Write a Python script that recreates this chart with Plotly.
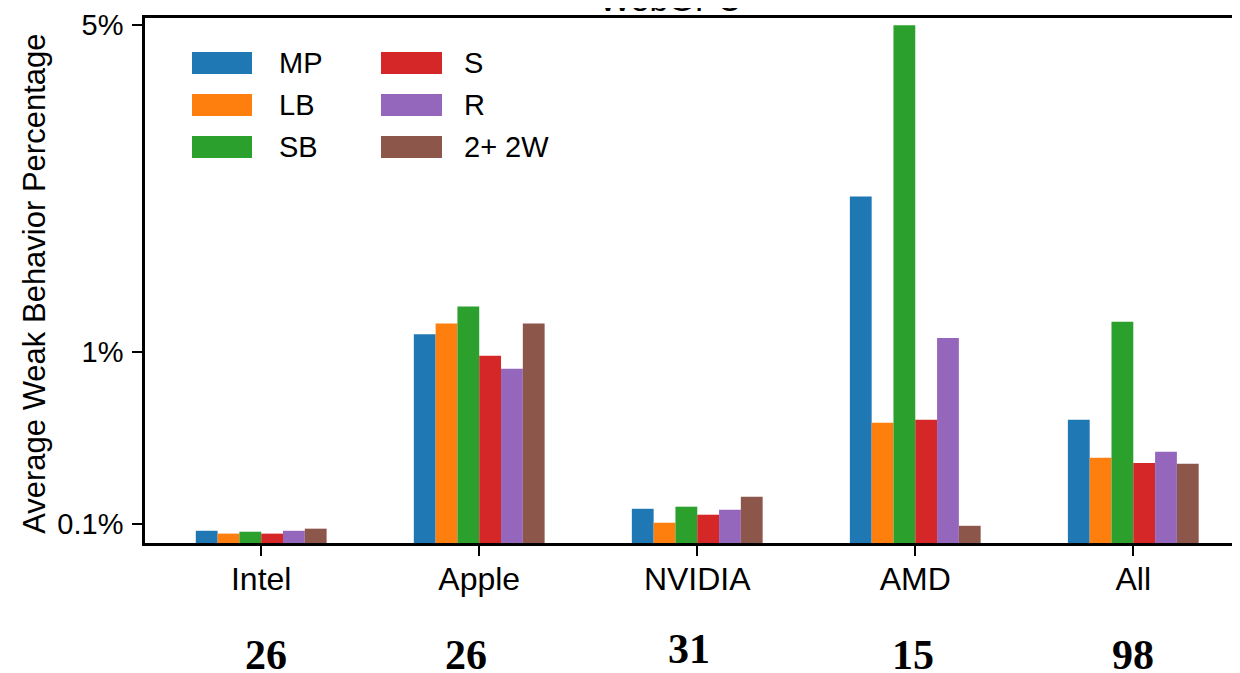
import math
import plotly.graph_objects as go

# ---------------- data ----------------
categories = ["Intel", "Apple", "NVIDIA", "AMD", "All"]
series_names = ["MP", "LB", "SB", "S", "R", "2+ 2W"]
# average weak behavior percentage (in %)
mp_vals = [0.064, 1.09, 0.179, 2.15, 0.645]
lb_vals = [0.049, 1.15, 0.106, 0.629, 0.446]
sb_vals = [0.059, 1.25, 0.190, 5.0, 1.16]
s_vals = [0.049, 0.979, 0.148, 0.645, 0.419]
r_vals = [0.064, 0.911, 0.174, 1.07, 0.477]
w2_vals = [0.075, 1.15, 0.242, 0.090, 0.415]
device_counts = ["26", "26", "31", "15", "98"]
count_x_offsets = [0.02, -0.06, -0.04, -0.01, 0.0]
count_y_offsets = [0.0, 0.0, 0.01, 0.0, 0.0]
y_tick_values = [0.1, 1, 5]
y_tick_labels = ["0.1%", "1%", "5%"]

colors = ["#1f77b4", "#ff7f0e", "#2ca02c", "#d62728", "#9467bd", "#8c564b"]
series_values = [mp_vals, lb_vals, sb_vals, s_vals, r_vals, w2_vals]

# symmetric-log style scale: linear below 1 %, logarithmic above
LIN_SCALE = 0.409


def scale(v):
    if v <= 1:
        return LIN_SCALE * v
    return LIN_SCALE + math.log10(v)


# page offset of the figure (browser body margin)
OFF = 8
W, H = 1240 - OFF, 673 - OFF
ML, MR, MT = 145 - OFF, 0, 18 - OFF
PLOT_BOTTOM = 543.3 - OFF
MB = H - PLOT_BOTTOM
PW = W - ML - MR
PH = H - MT - MB
X_LEFT, X_STEP, X0_PX = -0.533, 218.0, 261.3
X_RIGHT = (W + OFF - X0_PX) / X_STEP


def px_x(px):
    # px given in screen pixels
    return (px - OFF - ML) / PW


def px_y(py):
    return (PLOT_BOTTOM - (py - OFF)) / PH


fig = go.Figure()
x_idx = list(range(len(categories)))
for name, vals, col in zip(series_names, series_values, colors):
    fig.add_trace(go.Bar(
        x=x_idx, y=[scale(v) for v in vals], name=name,
        marker=dict(color=col, line=dict(width=0)),
        customdata=vals,
        hovertemplate=name + ": %{customdata}%<extra></extra>",
        showlegend=False,
    ))

fig.update_layout(
    width=W, height=H,
    margin=dict(l=ML, r=MR, t=MT, b=MB, pad=0),
    plot_bgcolor="white", paper_bgcolor="white",
    barmode="group", bargap=0.4, bargroupgap=0,
    font=dict(family="Liberation Sans, Arial, sans-serif", color="black"),
)

fig.update_xaxes(
    range=[X_LEFT, X_RIGHT],
    tickmode="array", tickvals=x_idx, ticktext=categories,
    ticks="outside", ticklen=10, tickwidth=2, tickcolor="black",
    showline=True, linewidth=2.5, linecolor="black", mirror=True,
    showgrid=False, zeroline=False,
    tickfont=dict(size=32, family="Liberation Sans, Arial, sans-serif"),
    ticklabelstandoff=-4,
)
fig.update_yaxes(
    range=[0, scale(5.18)],
    tickmode="array", tickvals=[scale(v) for v in y_tick_values], ticktext=y_tick_labels,
    ticks="outside", ticklen=10, tickwidth=2, tickcolor="black",
    showline=True, linewidth=2.5, linecolor="black", mirror=False,
    showgrid=False, zeroline=False,
    tickfont=dict(size=29, family="Liberation Sans, Arial, sans-serif"),
    ticklabelstandoff=3,
)

annotations = []
# title (partly cut off at the top)
annotations.append(dict(
    text="WebGPU", xref="paper", yref="paper", x=px_x(670), y=1,
    xanchor="center", yanchor="bottom", showarrow=False, yshift=-2,
    font=dict(size=34, family="Liberation Sans, Arial, sans-serif", color="black"),
))
# y axis title
annotations.append(dict(
    text="Average Weak Behavior Percentage", xref="paper", yref="paper",
    x=px_x(35), y=px_y(284), xanchor="center", yanchor="middle",
    textangle=-90, showarrow=False,
    font=dict(size=31, family="Liberation Sans, Arial, sans-serif", color="black"),
))
# device counts below categories
for i, (cnt, dx, dy) in enumerate(zip(device_counts, count_x_offsets, count_y_offsets)):
    annotations.append(dict(
        text="<b>" + cnt + "</b>", xref="x", yref="paper",
        x=i + dx, y=px_y(655) + dy, xanchor="center", yanchor="middle",
        showarrow=False,
        font=dict(size=42, family="Liberation Serif, Times New Roman, serif", color="black"),
    ))

# legend drawn as swatches + labels (two columns, column-major order)
shapes = []
col_swatch_x = [(192, 252), (381, 442)]
col_text_x = [277, 462]
row_y = [63, 105, 147]
for k, (name, col) in enumerate(zip(series_names, colors)):
    c, r = divmod(k, 3)
    x0, x1 = col_swatch_x[c]
    yc = row_y[r]
    shapes.append(dict(
        type="rect", xref="paper", yref="paper",
        x0=px_x(x0), x1=px_x(x1), y0=px_y(yc + 11), y1=px_y(yc - 11),
        fillcolor=col, line=dict(width=0),
    ))
    annotations.append(dict(
        text=name, xref="paper", yref="paper", x=px_x(col_text_x[c]), y=px_y(yc),
        xanchor="left", yanchor="middle", showarrow=False,
        font=dict(size=29, family="Liberation Sans, Arial, sans-serif", color="black"),
    ))

fig.update_layout(annotations=annotations, shapes=shapes)
fig.write_html("out.html")
